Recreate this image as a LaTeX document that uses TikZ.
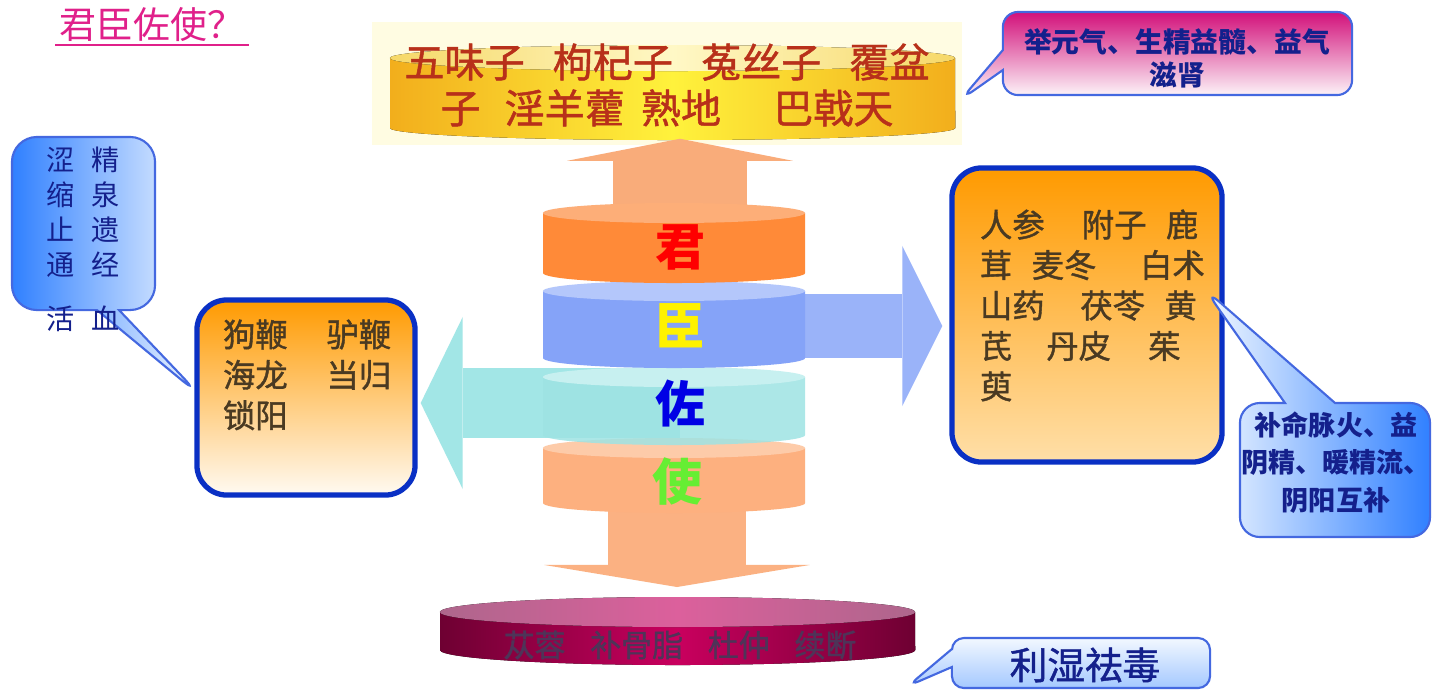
\documentclass[tikz,border=0pt]{standalone}
\usepackage{fontspec}
\setmainfont{Noto Sans CJK SC}
\newfontfamily\heavyfont[FakeBold=1.2]{Noto Sans CJK SC}
\usetikzlibrary{arrows.meta,shapes.callouts,positioning}

\definecolor{titlepink}{HTML}{E0208A}
\definecolor{paleyellow}{HTML}{FFFCE2}
\definecolor{drumgold}{HTML}{F2AE1C}
\definecolor{drumyellow}{HTML}{FFF23C}
\definecolor{lidgold}{HTML}{F6D868}
\definecolor{lidyellow}{HTML}{FFF8C6}
\definecolor{herbred}{HTML}{B8301A}
\definecolor{junbody}{HTML}{FF8A38}
\definecolor{juntop}{HTML}{FDAE78}
\definecolor{chenbody}{HTML}{85A3F8}
\definecolor{chentop}{HTML}{B4C7FB}
\definecolor{zuobody}{HTML}{9EE3E3}
\definecolor{zuotop}{HTML}{C7F0F0}
\definecolor{shibody}{HTML}{FDB07F}
\definecolor{shitop}{HTML}{FDCBA9}
\definecolor{uparrow}{HTML}{F9AC7A}
\definecolor{rightarrow}{HTML}{9AB3F9}
\definecolor{leftarrow}{HTML}{A2E6E6}
\definecolor{downarrow}{HTML}{FBB182}
\definecolor{plumdark}{HTML}{6E0032}
\definecolor{plumbright}{HTML}{C9005E}
\definecolor{lidplumside}{HTML}{AE668C}
\definecolor{lidplum}{HTML}{DC609C}
\definecolor{plumtext}{HTML}{4E3458}
\definecolor{boxblue}{HTML}{0A30C4}
\definecolor{boxorange}{HTML}{FF9A00}
\definecolor{boxcream}{HTML}{FFFAF2}
\definecolor{boxpeach}{HTML}{FFDFA8}
\definecolor{herbbrown}{HTML}{4A3A22}
\definecolor{calloutline}{HTML}{4468E0}
\definecolor{calloutblue}{HTML}{3080FF}
\definecolor{calloutwhite}{HTML}{F2F8FF}
\definecolor{calloutpink}{HTML}{D2107A}
\definecolor{inkblue}{HTML}{14208C}
\definecolor{skyblue}{HTML}{A4C8FF}
\definecolor{greenink}{HTML}{66EE33}

\tikzset{
  drumtext/.style={font=\heavyfont\fontsize{11.4}{13.1}\selectfont, text=herbred, align=center, inner sep=0pt},
  layertext/.style={font=\fontsize{14.2}{16}\selectfont\bfseries, inner sep=0pt},
  herbbox/.style={draw=boxblue, line width=1.5pt, rounded corners=0.3cm, top color=boxorange},
  herbtext/.style={font=\heavyfont\fontsize{9.2}{11.5}\selectfont, text=herbbrown, align=left, inner sep=0pt, anchor=north west},
  note/.style={rectangle callout, draw=calloutline, line width=0.6pt, inner sep=0pt},
  notetext/.style={text=inkblue, align=center, inner sep=0pt},
  blockarrow/.style={line width=#1, line cap=butt},
}

\begin{document}
\begin{tikzpicture}[x=0.01cm, y=-0.01cm]
\path[fill=white, use as bounding box] (0,0) rectangle (1432,690);

% title
\node[font=\fontsize{10.5}{12}\selectfont, text=titlepink, inner sep=1pt] (title) at (152,24) {君臣佐使？};
\draw[titlepink, line width=0.5pt] (title.south west) -- (title.south east);

% top drum
\node[fill=paleyellow, minimum width=5.9cm, minimum height=1.23cm, inner sep=0pt] (weibg) at (667,83.5) {};
\fill[left color=drumgold, right color=drumgold, middle color=drumyellow]
  (390,58) -- (390,128) arc[start angle=180, end angle=360, x radius=2.825cm, y radius=0.12cm] -- (955,58) -- cycle;
\fill[left color=lidgold, right color=lidgold, middle color=lidyellow] (672.5,58) ellipse[x radius=2.825cm, y radius=0.13cm];
\node[drumtext] (wei) at (667,85) {五味子\hspace{0.7em}枸杞子\hspace{0.7em}菟丝子\hspace{0.7em}覆盆\\子\hspace{0.6em}淫羊藿\hspace{0.4em}熟地\hspace{1.3em}巴戟天};

% herb boxes
\node[herbbox, bottom color=boxcream, minimum width=2.18cm, minimum height=1.95cm] (lbox) at (306,397.5) {};
\node[herbtext] (lherbs) at ([xshift=0.28cm, yshift=-0.215cm]lbox.north west) {狗鞭\hspace{1.2em}驴鞭\\海龙\hspace{1.2em}当归\\锁阳};
\node[herbbox, bottom color=boxpeach, minimum width=2.7cm, minimum height=2.94cm] (rbox) at (1087,315) {};
\node[herbtext] (rherbs) at ([xshift=0.3cm, yshift=-0.435cm]rbox.north west) {人参\hspace{1.15em}附子\hspace{0.6em}鹿\\茸\hspace{0.6em}麦冬\hspace{1.35em}白术\\山药\hspace{1.1em}茯苓\hspace{0.6em}黄\\芪\hspace{1.05em}丹皮\hspace{1.15em}茱\\萸};

% stack centres
\coordinate (jun) at (680,247);
\coordinate (chen) at (680,326);
\coordinate (zuo) at (680,403);
\coordinate (shi) at (677,481);
\coordinate (bottomdrum) at (677.5,597);

% block arrows
\draw[blockarrow=1.33cm, uparrow, -{Triangle[length=0.22cm, width=2.25cm, line width=0pt]}] (jun) -- ([yshift=0.07cm]jun |- weibg.south);
\draw[blockarrow=0.63cm, rightarrow, -{Triangle[length=0.4cm, width=1.6cm, line width=0pt]}] (chen) -- ([xshift=-0.07cm]chen -| rbox.west);
\draw[blockarrow=0.7cm, leftarrow, -{Triangle[length=0.42cm, width=1.72cm, line width=0pt]}] (zuo) -- ([xshift=0.03cm]zuo -| lbox.east);
\draw[blockarrow=1.38cm, downarrow, -{Triangle[length=0.22cm, width=2.65cm, line width=0pt]}] (shi) -- ([yshift=0.1cm]shi |- bottomdrum);

% stack of layers
\fill[shibody] (543,448) -- (543,503) arc[start angle=180, end angle=360, x radius=1.31cm, y radius=0.1cm] -- (805,448) -- cycle;
\fill[shitop] (674,448) ellipse[x radius=1.31cm, y radius=0.1cm];
\fill[zuobody, fill opacity=0.85] (543,377) -- (543,435) arc[start angle=180, end angle=360, x radius=1.31cm, y radius=0.1cm] -- (805,377) -- cycle;
\fill[zuotop] (674,377) ellipse[x radius=1.31cm, y radius=0.1cm];
\fill[chenbody] (543,291) -- (543,358) arc[start angle=180, end angle=360, x radius=1.31cm, y radius=0.1cm] -- (805,291) -- cycle;
\fill[chentop] (674,291) ellipse[x radius=1.31cm, y radius=0.1cm];
\fill[junbody] (543,213) -- (543,273) arc[start angle=180, end angle=360, x radius=1.31cm, y radius=0.1cm] -- (805,213) -- cycle;
\fill[juntop] (674,213) ellipse[x radius=1.31cm, y radius=0.1cm];
\node[layertext, text=red] (juntext) at (jun) {君};
\node[layertext, text=yellow] (chentext) at (chen) {臣};
\node[layertext, text=blue!90!black] (zuotext) at (zuo) {佐};
\node[layertext, text=greenink] (shitext) at (shi) {使};

% bottom drum
\fill[left color=plumdark, right color=plumdark, middle color=plumbright]
  (440,612) -- (440,650) arc[start angle=180, end angle=360, x radius=2.375cm, y radius=0.15cm] -- (915,612) -- cycle;
\fill[left color=lidplumside, right color=lidplumside, middle color=lidplum] (677.5,612) ellipse[x radius=2.375cm, y radius=0.15cm];
\node[font=\heavyfont\fontsize{8.8}{10}\selectfont, text=plumtext, inner sep=0pt] (ping) at (680,645) {苁蓉\hspace{0.8em}补骨脂\hspace{0.8em}杜仲\hspace{0.8em}续断};
\coordinate (bottomrim) at (908,686);

% callouts
\node[note, rounded corners=0.25cm, left color=calloutblue, right color=calloutwhite, minimum width=1.43cm, minimum height=1.73cm,
  callout absolute pointer={([xshift=0.06cm, yshift=0.02cm]lbox.west)}, callout pointer width=0.22cm] (lnote) at (83.5,223.5) {};
\node[notetext, font=\fontsize{8}{10}\selectfont] (lnotetext) at (83,239) {涩\hspace{0.6em}精\\缩\hspace{0.6em}泉\\止\hspace{0.6em}遗\\通\hspace{0.6em}经\\[0.18cm]活\hspace{0.6em}血};

\node[note, rounded corners=0.15cm, top color=calloutpink, bottom color=white, minimum width=3.49cm, minimum height=0.83cm,
  callout absolute pointer={([xshift=-0.02cm, yshift=-0.16cm]weibg.east)}, callout pointer width=0.2cm] (tnote) at (1177.5,53.5) {};
\node[notetext, font=\fontsize{7.9}{9.4}\selectfont\bfseries] (tnotetext) at (1177,58.5) {举元气、生精益髓、益气\\滋肾};

\node[note, rounded corners=0.2cm, left color=calloutwhite, right color=calloutblue, minimum width=1.9cm, minimum height=1.34cm,
  callout absolute pointer={([xshift=-0.2cm, yshift=0.26cm]rbox.east)}, callout pointer width=0.5cm] (rnote) at (1335,470) {};
\node[notetext, font=\fontsize{7.7}{10.7}\selectfont\bfseries] (rnotetext) at (1336,462.5) {补命脉火、益\\阴精、暖精流、\\阴阳互补};

\node[note, rounded corners=0.12cm, top color=calloutwhite, bottom color=skyblue, minimum width=2.58cm, minimum height=0.5cm,
  callout absolute pointer={(bottomrim)}, callout pointer width=0.18cm] (bnote) at (1081,663) {};
\node[notetext, font=\heavyfont\fontsize{10.7}{12}\selectfont] (bnotetext) at (1085,665) {利湿祛毒};
\end{tikzpicture}
\end{document}
